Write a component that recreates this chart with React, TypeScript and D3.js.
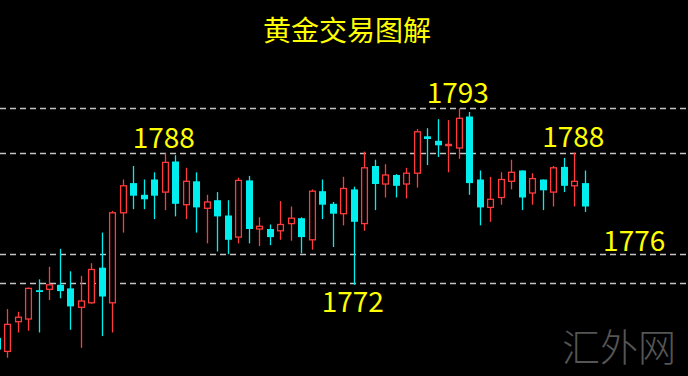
import React from "react";
import * as d3 from "d3";

const W = 688;
const H = 376;

// Candle data (price units), oldest first
const opens = [1767.4, 1765.9, 1769.2, 1769.5, 1772.7, 1772.8, 1773.3, 1772.9, 1770.8, 1771.3, 1775.2, 1771.3, 1781.3, 1784.6, 1783.3, 1785.0, 1783.6, 1787.0, 1782.2, 1784.8, 1781.8, 1782.7, 1781.0, 1778.6, 1784.9, 1779.5, 1779.5, 1779.3, 1780.1, 1780.7, 1778.3, 1783.7, 1782.3, 1781.2, 1783.9, 1780.1, 1786.5, 1784.5, 1785.5, 1784.5, 1785.7, 1789.8, 1789.3, 1788.8, 1788.5, 1792.0, 1785.0, 1781.9, 1783.0, 1784.8, 1786.0, 1783.5, 1785.0, 1783.6, 1786.4, 1784.3, 1784.6];
const highs = [1768.1, 1770.6, 1770.3, 1773.0, 1773.9, 1775.3, 1777.3, 1774.8, 1774.3, 1775.7, 1779.1, 1781.5, 1785.0, 1786.5, 1785.0, 1785.8, 1787.9, 1787.7, 1786.3, 1785.8, 1783.3, 1783.6, 1782.7, 1785.2, 1785.4, 1780.8, 1780.0, 1782.6, 1782.0, 1780.8, 1783.9, 1785.0, 1782.5, 1785.3, 1784.2, 1788.1, 1787.2, 1786.7, 1785.6, 1786.3, 1790.6, 1790.7, 1791.7, 1791.6, 1792.9, 1792.5, 1786.0, 1785.3, 1785.8, 1787.2, 1786.0, 1785.7, 1785.0, 1786.5, 1787.4, 1788.0, 1786.0];
const lows = [1765.8, 1765.2, 1768.0, 1768.2, 1768.0, 1771.6, 1771.8, 1768.3, 1766.3, 1771.2, 1767.6, 1768.0, 1779.1, 1781.7, 1781.7, 1780.6, 1781.6, 1780.9, 1780.6, 1779.1, 1777.9, 1777.0, 1776.7, 1777.9, 1777.9, 1777.6, 1777.7, 1778.3, 1778.2, 1776.8, 1777.2, 1780.6, 1777.5, 1779.9, 1773.3, 1779.3, 1781.6, 1783.0, 1783.0, 1782.9, 1784.1, 1786.6, 1787.5, 1785.8, 1787.3, 1783.3, 1779.9, 1780.3, 1782.2, 1783.9, 1781.6, 1782.2, 1781.6, 1782.0, 1783.6, 1782.0, 1781.4];
const closes = [1766.1, 1768.9, 1769.7, 1772.9, 1772.5, 1773.3, 1772.6, 1770.9, 1771.5, 1775.0, 1772.0, 1781.3, 1784.3, 1783.2, 1782.8, 1783.2, 1786.9, 1782.3, 1784.8, 1781.9, 1782.5, 1780.9, 1778.3, 1784.9, 1779.5, 1779.8, 1778.6, 1780.0, 1780.7, 1778.6, 1783.7, 1782.2, 1781.2, 1784.0, 1780.3, 1786.3, 1784.5, 1785.5, 1784.3, 1785.7, 1790.3, 1789.5, 1788.8, 1788.9, 1791.8, 1784.6, 1781.9, 1782.8, 1785.0, 1785.8, 1783.0, 1785.1, 1783.8, 1786.3, 1784.3, 1784.8, 1782.0];

// Horizontal support / resistance levels
const levels = [1793, 1788, 1776.7, 1773.5];

// Annotation texts
const title = "黄金交易图解";
const labelTexts = ["1788", "1793", "1788", "1772", "1776"];
const labelIndex = [16, 44, 55, 34, 60.8];
const watermark = "汇外网";

const RED = "#ff3b3b";
const CYAN = "#00eeee";
const YELLOW = "#ffff00";

export default function App() {
  const idx = d3.range(opens.length);
  const x = d3.scaleLinear().domain([0, opens.length - 1]).range([-3.2, 584.8]);
  const y = d3.scaleLinear().domain([1765, 1795]).range([359.5, 89.5]);
  const bw = 7;

  const labelY = [148, 103, 147, 312, 251];

  return (
    <svg
      width={W}
      height={H}
      style={{ position: "absolute", left: 0, top: 0, background: "#000", display: "block" }}
    >
      <rect x={0} y={0} width={W} height={H} fill="#000" />
      {levels.map((lv, i) => (
        <line
          key={"lv" + i}
          x1={0}
          x2={W}
          y1={Math.round(y(lv)) + 0.5}
          y2={Math.round(y(lv)) + 0.5}
          stroke="#c4c4c4"
          strokeWidth={1.5}
          strokeDasharray="6 4"
        />
      ))}
      {idx.map((i) => {
        const o = opens[i];
        const c = closes[i];
        const up = c >= o;
        const cx = Math.round(x(i)) + 0.5;
        const top = y(Math.max(o, c));
        const bot = y(Math.min(o, c));
        const hy = y(highs[i]);
        const ly = y(lows[i]);
        const bh = Math.max(1.2, bot - top);
        if (up) {
          return (
            <g key={i}>
              <line x1={cx} x2={cx} y1={hy} y2={top} stroke={RED} strokeWidth={1.3} />
              <line x1={cx} x2={cx} y1={top + bh} y2={ly} stroke={RED} strokeWidth={1.3} />
              <rect
                x={cx - bw / 2 + 0.6}
                y={top}
                width={bw - 1.2}
                height={bh}
                fill="#000"
                stroke={RED}
                strokeWidth={1.3}
              />
            </g>
          );
        }
        return (
          <g key={i}>
            <line x1={cx} x2={cx} y1={hy} y2={ly} stroke={CYAN} strokeWidth={1.3} />
            <rect x={cx - bw / 2} y={top} width={bw} height={bh} fill={CYAN} />
          </g>
        );
      })}
      <text
        x={347}
        y={41}
        textAnchor="middle"
        fontFamily="'Noto Sans CJK SC', sans-serif"
        fontSize={28}
        fill={YELLOW}
      >
        {title}
      </text>
      {labelTexts.map((t, i) => (
        <text
          key={"lb" + i}
          x={x(labelIndex[i]) - 1}
          y={labelY[i]}
          textAnchor="middle"
          fontFamily="'Noto Sans CJK SC', sans-serif"
          fontSize={28}
          fill={YELLOW}
        >
          {t}
        </text>
      ))}
      <text
        x={619}
        y={361}
        textAnchor="middle"
        fontFamily="'Noto Sans CJK SC', sans-serif"
        fontSize={38}
        fontWeight={300}
        fill="#555555"
      >
        {watermark}
      </text>
    </svg>
  );
}
